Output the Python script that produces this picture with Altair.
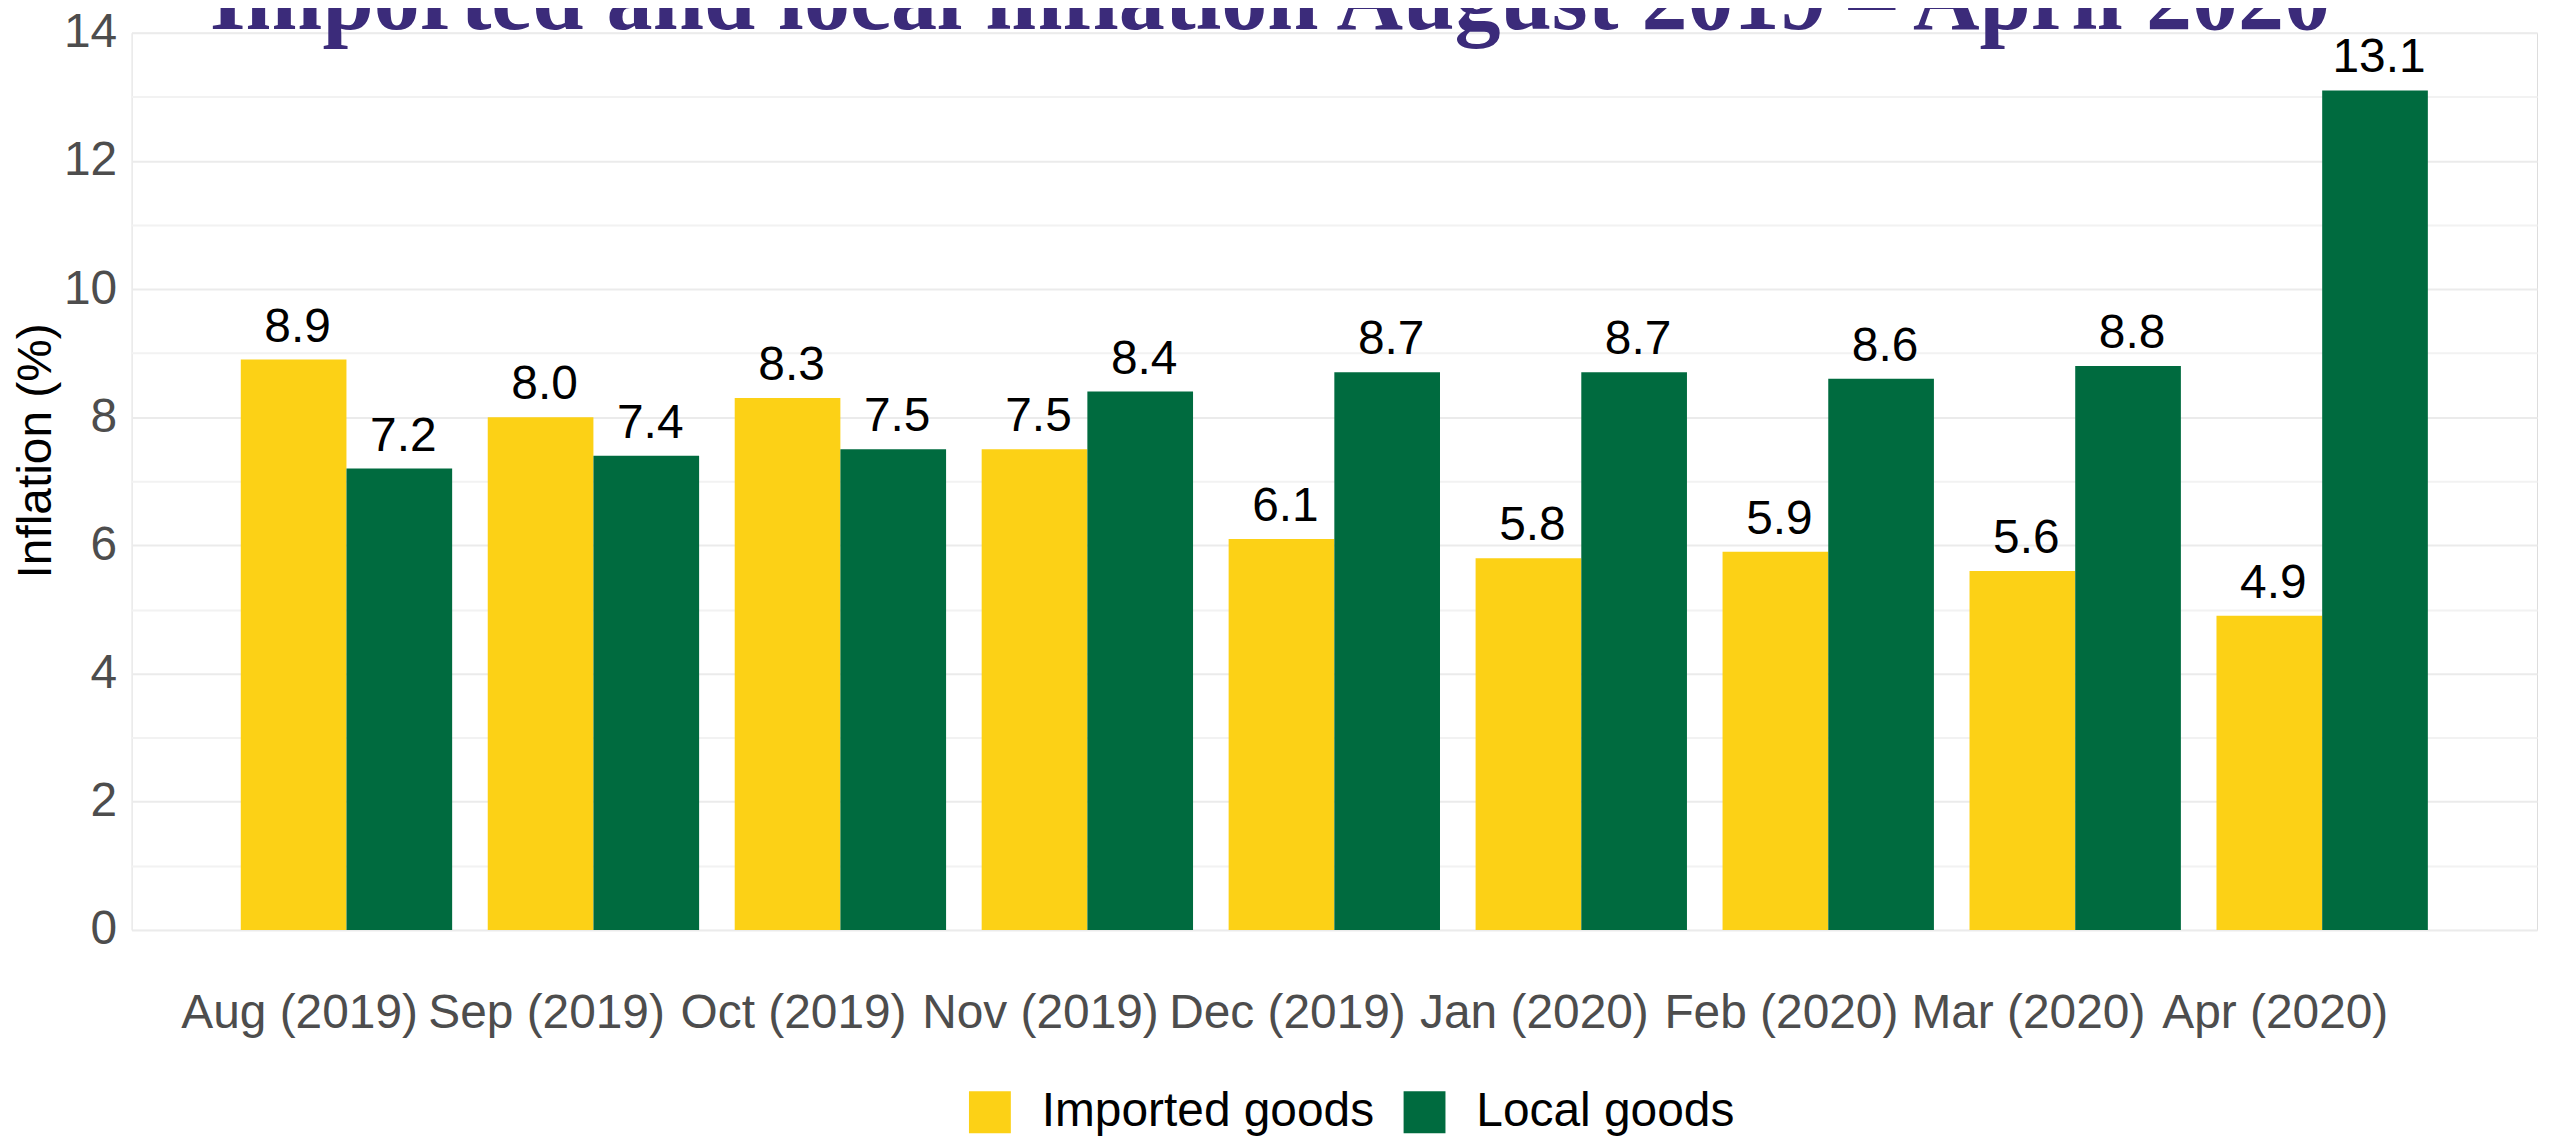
import altair as alt
import pandas as pd

TITLE = "Imported and local inflation August 2019 \u2013 April 2020"
months = ["Aug (2019)", "Sep (2019)", "Oct (2019)", "Nov (2019)", "Dec (2019)",
          "Jan (2020)", "Feb (2020)", "Mar (2020)", "Apr (2020)"]
imported = [8.9, 8.0, 8.3, 7.5, 6.1, 5.8, 5.9, 5.6, 4.9]
local = [7.2, 7.4, 7.5, 8.4, 8.7, 8.7, 8.6, 8.8, 13.1]
series = ["Imported goods", "Local goods"]
colors = ["#FCD116", "#006B3F"]
y_ticks = list(range(0, 15))

rows = []
for m, a, b in zip(months, imported, local):
    rows.append({"month": m, "series": series[0], "value": a})
    rows.append({"month": m, "series": series[1], "value": b})
df = pd.DataFrame(rows)

FONT = "Liberation Sans"

x_enc = alt.X(
    "month:N", sort=months,
    scale=alt.Scale(paddingInner=0.144, paddingOuter=0.442),
    axis=alt.Axis(title=None, labelAngle=0, ticks=False, domain=False, tickSize=0,
                  labelFont=FONT, labelFontSize=48, labelColor="#4d4d4d",
                  labelPadding=98, labelBaseline="alphabetic", labelOffset=-47,
                  labelOverlap=False, labelFlush=False, labelLimit=0, grid=False),
)
xoff = alt.XOffset("series:N", sort=series, scale=alt.Scale(paddingInner=0, paddingOuter=0))
y_enc = alt.Y(
    "value:Q", scale=alt.Scale(domain=[0, 14], nice=False, zero=True),
    axis=alt.Axis(
        values=y_ticks, format="d",
        labelExpr="datum.value % 2 == 0 ? datum.label : ''",
        title="Inflation (%)", titleFont=FONT, titleFontSize=48, titleFontWeight="normal",
        titleColor="#000000", titleAngle=270, titleX=-95, titleY=419,
        titleBaseline="middle", titleAlign="center",
        ticks=False, tickSize=0, domain=False, labelPadding=15,
        labelFont=FONT, labelFontSize=48, labelColor="#4d4d4d",
        grid=True, gridWidth=2,
        gridColor={"condition": {"test": "datum.value % 2 == 1", "value": "#f2f2f2"},
                   "value": "#ebebeb"},
    ),
)

bars = alt.Chart(df).mark_bar(size=106).encode(
    x=x_enc,
    xOffset=xoff,
    y=y_enc,
    color=alt.Color(
        "series:N", sort=series,
        scale=alt.Scale(domain=series, range=colors),
        legend=alt.Legend(
            title=None, orient="none", direction="horizontal",
            legendX=837, legendY=1059, padding=0,
            symbolType="square", symbolSize=1764, symbolStrokeWidth=0,
            symbolOpacity=1, labelLimit=0,
            labelFont=FONT, labelFontSize=48, labelColor="#000000",
            labelOffset=28, columnPadding=26,
        ),
    ),
)

labels = alt.Chart(df).mark_text(
    font=FONT, fontSize=48, color="#000000", baseline="alphabetic", dy=-18, dx=4
).encode(
    x=alt.X("month:N", sort=months),
    xOffset=alt.XOffset("series:N", sort=series),
    y=alt.Y("value:Q"),
    text=alt.Text("value:Q", format=".1f"),
)

title = alt.Chart(pd.DataFrame({"t": [TITLE]})).mark_text(
    font="Liberation Serif", fontSize=92.5, fontWeight="bold", color="#3b2b7a",
    align="center", baseline="alphabetic"
).encode(
    text="t:N", x=alt.value(1142), y=alt.value(-4)
)

chart = alt.layer(bars, labels, title).properties(
    width=2413, height=900,
    autosize=alt.AutoSizeParams(type="none"),
    padding={"left": 124, "top": 23, "right": 7, "bottom": 213},
).configure_view(stroke=None).configure(background="#ffffff")

chart.save("out.html", embed_options={"renderer": "svg", "actions": False})
